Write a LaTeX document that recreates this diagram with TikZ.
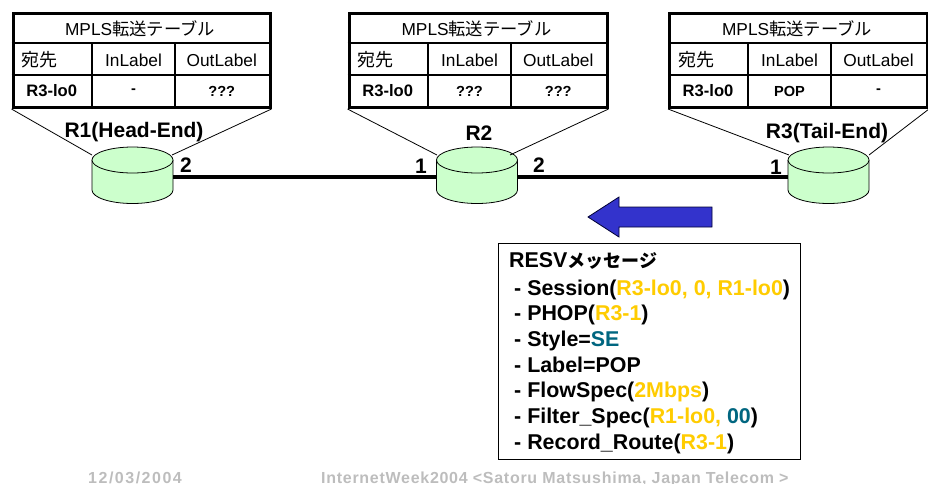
\documentclass[tikz,border=0pt]{standalone}
\usepackage{fontspec}
\setmainfont{Liberation Sans}
\newfontfamily\cjk{Noto Sans CJK JP}
\definecolor{cyl}{HTML}{CCFFCC}
\definecolor{hl}{HTML}{FFCC00}
\definecolor{tl}{HTML}{006680}
\definecolor{arr}{HTML}{3333CC}
\definecolor{foot}{HTML}{BDBDBD}
\newcommand{\fs}[1]{\fontsize{#1}{#1}\selectfont}
\tikzset{
  cell/.style={inner sep=0pt,font=\fs{17.3}},
  cellb/.style={inner sep=0pt,font=\fs{14.6}\bfseries},
  celll/.style={inner sep=0pt,font=\fs{16.6}\bfseries},
  tframe/.style={draw=black,line width=3pt,fill=white,minimum height=94pt,inner sep=0pt},
  tline/.style={line width=1.3pt},
  funnel/.style={line width=0.8pt},
  rtr/.style={inner sep=0pt,minimum width=81pt,minimum height=60pt},
  link/.style={line width=3.4pt},
  rname/.style={inner sep=0pt,font=\fs{21}\bfseries},
  port/.style={inner sep=0pt,font=\fs{21}\bfseries},
  foottext/.style={inner sep=0pt,text=foot,font=\fs{16}\bfseries},
  msg/.style={draw=black,line width=1.2pt,fill=white,minimum width=302pt,minimum height=216pt,inner sep=0pt},
  msgline/.style={inner sep=0pt,anchor=base west,font=\fs{21.4}\bfseries},
}
% #1 name, #2 left x, #3 width, #4 col1 x, #5 col2 x, #6,#7,#8 data row
\newcommand{\mtable}[8]{%
  \node[tframe,anchor=north west,minimum width=#3pt] (#1) at (#2,12) {};
  \draw[tline] (#2,43) -- (#2+#3,43);
  \draw[tline] (#2,75) -- (#2+#3,75);
  \draw[tline] (#4,43) -- (#4,107);
  \draw[tline] (#5,43) -- (#5,107);
  \node[cell] (#1title) at (#2+#3/2,29) {MPLS{\cjk 転送テーブル}};
  \node[cell,anchor=west] (#1dest) at (#2+10,60) {\fs{18}\cjk 宛先};
  \node[cell] (#1in) at ({(#4+#5)/2},60) {InLabel};
  \node[cell] (#1out) at ({(#5+#2+#3)/2},60) {OutLabel};
  \node[celll] (#1a) at ({(#2+#4)/2},91) {#6};
  \node[cellb] (#1b) at ({(#4+#5)/2},91) {#7};
  \node[cellb] (#1c) at ({(#5+#2+#3)/2},91) {#8};
}
\newcommand{\cylinder}[2]{% name, center x (node spans y 147..207)
  \node[rtr] (#1) at (#2,177) {};
  \draw[fill=cyl,line width=0.8pt] (#2-40.5,160) -- (#2-40.5,190)
     arc[x radius=40.5,y radius=13.5,start angle=180,end angle=0]
     -- (#2+40.5,160);
  \draw[fill=cyl,line width=0.8pt] (#2,160) ellipse[x radius=40.5,y radius=13];
}
\begin{document}
\begin{tikzpicture}[x=1pt,y=-1pt]
\useasboundingbox (0,0) rectangle (928,483);
\mtable{ta}{11.5}{257}{92}{175}{R3-lo0}{-}{???}
\mtable{tb}{347.5}{258}{428}{511}{R3-lo0}{???}{???}
\mtable{tc}{668}{258}{748}{831}{R3-lo0}{POP}{-}
\coordinate (ra1) at (92,155); \coordinate (ra2) at (172,155);
\coordinate (rb1) at (437,155); \coordinate (rb2) at (510,155);
\coordinate (rc1) at (789,155); \coordinate (rc2) at (869,155);
\draw[funnel] (ta.south west) -- (ra1);
\draw[funnel] (ta.south east) -- (ra2);
\draw[funnel] (tb.south west) -- (rb1);
\draw[funnel] (tc.south west) -- (rc1);
\draw[funnel] (tc.south east) -- (rc2);
\cylinder{ra}{132.5}
\cylinder{rb}{477}
\cylinder{rc}{828.5}
\draw[funnel] (tb.south east) -- (rb2);
\draw[link] (ra.east) -- (rb.west);
\draw[link] (rb.east) -- (rc.west);
\node[rname] (na) at (134,132) {R1(Head-End)};
\node[rname] (nb) at (479,133) {R2};
\node[rname] (nc) at (827,133) {R3(Tail-End)};
\node[port] (pa) at (186,165) {2};
\node[port] (pb) at (421,166) {1};
\node[port] (pc) at (539,165) {2};
\node[port] (pd) at (776,167) {1};
\draw[fill=arr,line width=0.8pt,draw=black!80!blue] (588,217) -- (619,197) -- (619,207) -- (712,207) -- (712,227) -- (619,227) -- (619,237) -- cycle;
\node[msg,anchor=north west] (m) at (498,243) {};
\node[msgline] (m0) at (509,267) {RESV{\fs{18}\cjk\bfseries メッセージ}};
\node[msgline] (m1) at (514,295) {- Session(\textcolor{hl}{R3-lo0, 0, R1-lo0})};
\node[msgline] (m2) at (514,320) {- PHOP(\textcolor{hl}{R3-1})};
\node[msgline] (m3) at (514,346) {- Style=\textcolor{tl}{SE}};
\node[msgline] (m4) at (514,372) {- Label=POP};
\node[msgline] (m5) at (514,397) {- FlowSpec(\textcolor{hl}{2Mbps})};
\node[msgline] (m6) at (514,423) {- Filter\_Spec(\textcolor{hl}{R1-lo0,} \textcolor{tl}{00})};
\node[msgline] (m7) at (514,449) {- Record\_Route(\textcolor{hl}{R3-1})};
\node[foottext,anchor=base west] (f1) at (88,483) {\addfontfeature{LetterSpace=9.4}12/03/2004};
\node[foottext,anchor=base west] (f2) at (321,483) {\addfontfeature{LetterSpace=4.5}InternetWeek2004 <Satoru Matsushima, Japan Telecom >};
\end{tikzpicture}
\end{document}
